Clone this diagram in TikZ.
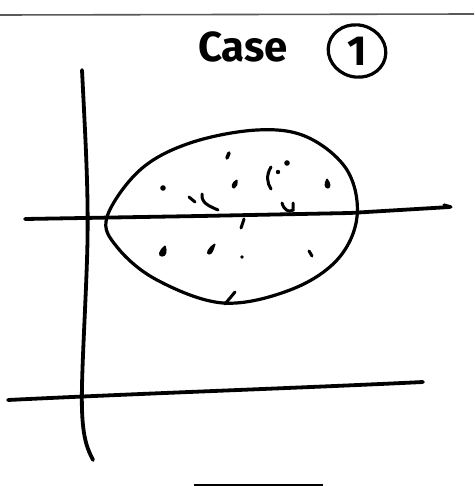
\documentclass[tikz,border=0pt]{standalone}
\usepackage{fontspec}
\usetikzlibrary{shapes.geometric}
\newfontfamily\handfont{Fira Sans}
\begin{document}
\begin{tikzpicture}[x=1pt,y=-1pt,
  pen/.style={line width=3.8pt,line cap=round,line join=round,black},
  thinpen/.style={line width=3.2pt,line cap=round,line join=round,black},
  speck/.style={line width=3pt,line cap=round,black},
  blob/.style={fill=black,draw=black,line width=1.2pt,line join=round}]
\useasboundingbox (0,0) rectangle (474,486);
% scanned top border
\draw[line width=1.6pt,gray!70!black] (0,15) -- (474,14);
% title
\node[font=\handfont\bfseries\fontsize{42}{42}\selectfont,anchor=base west,inner sep=0pt] (title) at (198,62) {Case};
\node[draw,ellipse,line width=3.2pt,minimum width=58pt,minimum height=52pt,inner sep=0pt,rotate=-15] (num) at (357,51) {};
\node[font=\handfont\bfseries\fontsize{42}{42}\selectfont,inner sep=0pt] (numtext) at (num.center) {1};
% vertical axis
\draw[pen] (82,70) .. controls (86,150) and (89,200) .. (87,260)
           .. controls (85,320) and (81,380) .. (82,410)
           .. controls (83,440) and (88,450) .. (93,460);
% upper horizontal line
\draw[pen] (25,219) -- (200,216) -- (350,213) -- (450,207);
\draw[thinpen] (444,205) -- (451,207);
% lower horizontal line
\draw[pen] (8,400) .. controls (150,393) and (300,388) .. (423,382);
% egg-shaped region
\draw[thinpen] plot[smooth cycle,tension=0.6] coordinates {
  (107,217) (117,247) (157,280) (223,303) (290,290) (337,260) (357,217)
  (347,170) (307,137) (257,130) (190,143) (140,170)};
% specks inside
\draw[speck,line width=3.6pt] (229,153) -- (227,158);
\fill (287,163) circle (2.8pt);
\fill (278,172) circle (2.2pt);
\draw[speck] (271,167) .. controls (266,175) and (267,183) .. (271,189);
\draw[blob] (327,179) .. controls (324,184) and (325,188) .. (328,188) .. controls (331,187) and (330,183) .. (327,179);
\draw[blob] (237,180) .. controls (232,182) and (231,188) .. (234,188) .. controls (237,187) and (237,184) .. (237,180);
\fill (163,188) circle (2.8pt);
\draw[speck] (189,197) -- (195,202);
\draw[speck] (202,194) .. controls (201,203) and (209,206) .. (218,210);
\draw[speck] (282,203) .. controls (284,210) and (289,213) .. (293,210) -- (293,203);
\draw[speck] (244,219) -- (241,228);
\draw[blob] (165,246) .. controls (159,251) and (158,256) .. (162,256) .. controls (166,256) and (167,251) .. (165,246);
\draw[blob] (215,244) .. controls (208,248) and (206,254) .. (209,254) .. controls (212,254) and (213,250) .. (215,244);
\fill (242,257) circle (1.9pt);
\draw[speck] (309,251) -- (312,256);
\draw[speck] (235,292) -- (225,304);
% bottom fragment
\draw[line width=3pt] (194,485) -- (323,485);
\end{tikzpicture}
\end{document}
